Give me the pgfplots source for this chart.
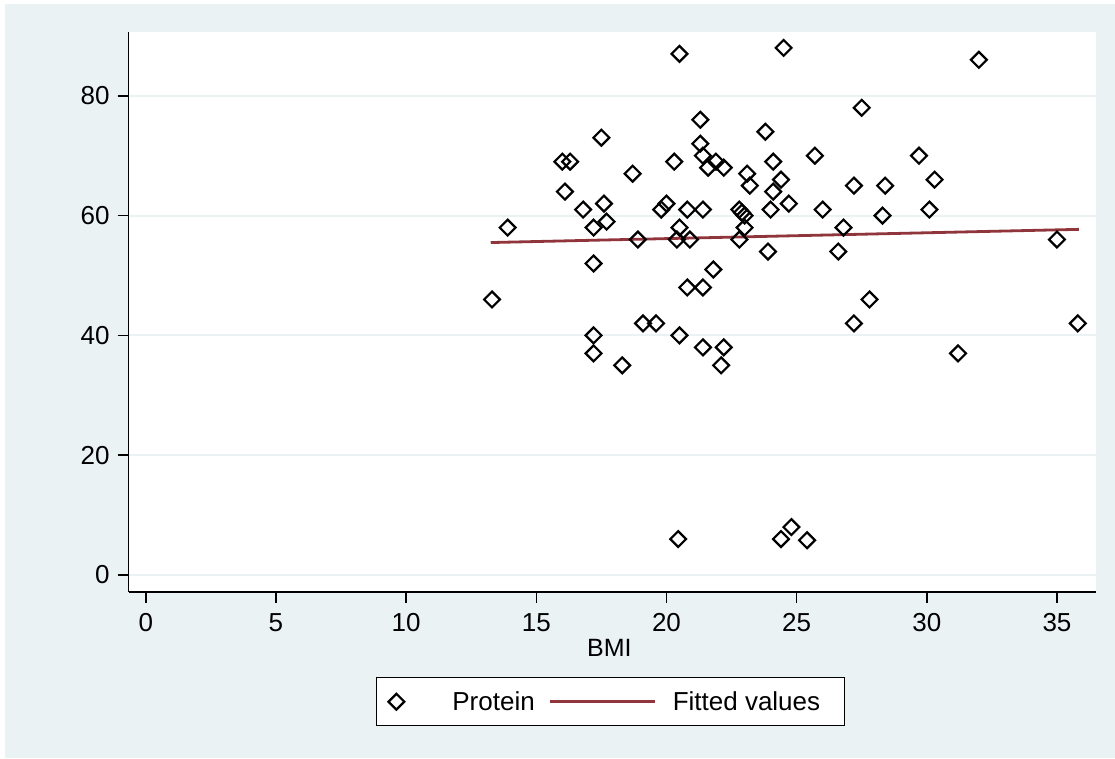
\documentclass[border=0pt]{standalone}
\usepackage{fontspec}
\setmainfont{Liberation Sans}
\usepackage{pgfplots}
\pgfplotsset{compat=1.18}
\definecolor{stbg}{RGB}{234,242,243}
\definecolor{fitred}{RGB}{144,53,59}
\pgfplotsset{
  dialegend/.style={legend image code/.code={\path[draw=none,fill=none] (0pt,-24pt) rectangle (76pt,24pt);
    \draw[##1] plot coordinates {(20pt,0pt)};}},
  linelegend/.style={legend image code/.code={\path[draw=none,fill=none] (0pt,-24pt) rectangle (138pt,24pt);
    \draw[##1] (15pt,0pt) -- (120pt,0pt);}},
}
\begin{document}
\begin{tikzpicture}[x=1pt,y=1pt]
\fill[white] (0,0) rectangle (1115,758);
\fill[stbg] (5,0) rectangle (1115,754);
\begin{axis}[
  at={(128.7pt,166pt)}, anchor=south west,
  scale only axis, width=967.3pt, height=560.3pt,
  xmin=-0.657, xmax=36.5, ymin=-2.84, ymax=90.7,
  axis background/.style={fill=white},
  axis x line*=bottom, axis y line*=left,
  axis line style={black, line width=1.5pt, -},
  xtick={0,5,...,35}, ytick={0,20,...,80},
  tick align=outside, major tick length=11pt,
  every tick/.style={black, line width=1.5pt},
  ymajorgrids, major grid style={stbg, line width=2pt},
  /pgf/number format/assume math mode=true,
  ticklabel style={font=\fontsize{26}{30}\selectfont, inner sep=0pt},
  xticklabel style={yshift=-10pt},
  yticklabel style={xshift=-8pt},
  xlabel={BMI},
  xlabel style={font=\fontsize{25}{30}\selectfont, inner sep=0pt,
    at={(axis description cs:0.497,-0.0839)}, anchor=north},
  legend cell align=left,
  legend style={at={(axis description cs:0.2554,-0.1518)}, anchor=north west,
    draw=black, line width=1.3pt, fill=white, inner xsep=0pt, inner ysep=0pt,
    legend columns=2, column sep=0pt,
    nodes={inner sep=0pt, font=\fontsize{26}{30}\selectfont}},
]
\addplot[only marks, mark=square, mark size=5.6pt,
  mark options={black, rotate=45, line width=2.2pt}, dialegend]
coordinates {
(13.3,46) (13.9,58) (16.0,69) (16.3,69) (16.1,64) (16.8,61) (17.2,58) (17.7,59)
(17.6,62) (17.5,73) (17.2,52) (17.2,40) (17.2,37) (18.3,35) (18.7,67) (18.9,56)
(19.1,42) (19.6,42) (19.8,61) (20.0,62) (20.3,69) (20.5,87) (20.5,58) (20.4,56)
(20.9,56) (20.8,61) (20.8,48) (20.5,40) (20.45,6) (21.3,76) (21.3,72) (21.4,70)
(21.9,69) (21.6,68) (22.2,68) (21.4,61) (21.8,51) (21.4,48) (21.4,38) (22.2,38)
(22.1,35) (22.8,61) (22.9,60.5) (23.0,60) (23.0,58) (22.8,56) (23.1,67) (23.2,65)
(23.8,74) (24.1,69) (24.4,66) (24.1,64) (24.0,61) (24.7,62) (23.9,54) (24.5,88)
(24.4,6) (24.8,8) (25.4,5.8) (25.7,70) (26.0,61) (26.8,58) (26.6,54) (27.2,65)
(27.5,78) (27.2,42) (27.8,46) (28.4,65) (28.3,60) (29.7,70) (30.3,66) (30.1,61)
(31.2,37) (32.0,86) (35.0,56) (35.8,42)
};
\addlegendentry{Protein}
\addplot[fitred, line width=2.8pt, linelegend]
coordinates {(13.25,55.5) (35.84,57.7)};
\addlegendentry{Fitted values\hspace*{24pt}}
\end{axis}
\end{tikzpicture}
\end{document}
